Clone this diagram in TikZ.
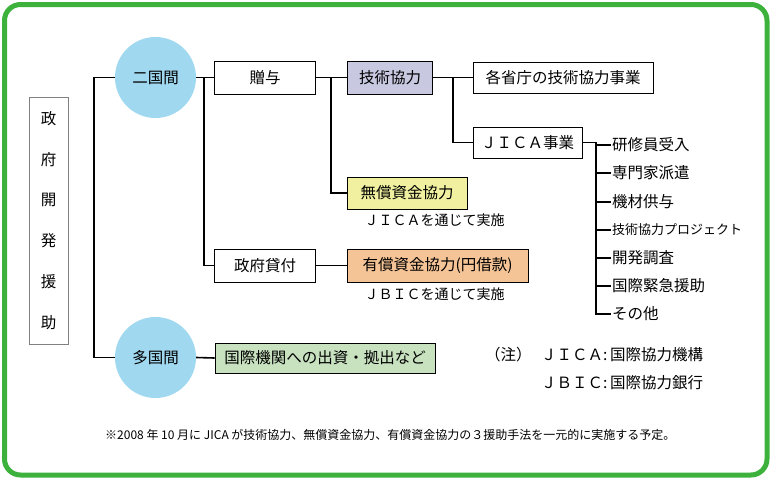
\documentclass[tikz,border=0pt]{standalone}
\usepackage{fontspec}
\setmainfont{Noto Sans CJK JP}
\usepackage{tikz}
\usetikzlibrary{positioning}
\definecolor{framegreen}{RGB}{60,178,60}
\definecolor{circblue}{RGB}{160,216,240}
\definecolor{lavbox}{RGB}{200,200,224}
\definecolor{yelbox}{RGB}{240,240,160}
\definecolor{orbox}{RGB}{245,196,150}
\definecolor{grbox}{RGB}{200,226,192}
\tikzset{
x=1pt, y=-1pt, % pixel-like units, y grows downwards
font=\fontsize{15.5}{18}\selectfont, % sets the size of all labels
kind/.style={circle, fill=circblue, minimum size=81, inner sep=0pt}, % the two round nodes
box/.style={draw, line width=0.8pt, minimum height=33, inner sep=0pt}, % sets the properties of each box
item/.style={anchor=west, inner xsep=1pt}, % entries of the JICA list
note/.style={anchor=west, inner sep=0pt}, % loose texts
link/.style={line width=1.6pt}, % the connecting lines
}

\begin{document}
\begin{tikzpicture}
\useasboundingbox (0,0) rectangle (771,479);
\draw[framegreen, line width=5pt, rounded corners=16pt] (4.5,4.5) rectangle (767,475);

% the left box
\node[draw=gray, line width=0.8pt, minimum width=39, minimum height=247, inner sep=0pt,
      align=center, font=\fontsize{15.5}{40.8}\selectfont] (oda) at (48.5,220.5)
      {政\\府\\開\\発\\援\\助};

\node[kind] (niko) at (155.5,77.5) {二国間};
\node[kind] (tako) at (155.5,357.5) {多国間};

\node[box, minimum width=101] (zoyo) at (265,77.5) {贈与};
\node[box, minimum width=101] (kashi) at (265,265.5) {政府貸付};
\node[box, minimum width=85, fill=lavbox] (gijutsu) at (390,77.5) {技術協力};
\node[box, minimum width=120, minimum height=32, fill=yelbox] (musho) at (407,193) {無償資金協力};
\node[box, minimum width=181, fill=orbox] (yusho) at (437.5,265.5) {有償資金協力(円借款)};
\node[box, minimum width=220, minimum height=30, fill=grbox] (kokusai) at (325,358) {国際機関への出資・拠出など};
\node[box, minimum width=180, minimum height=31] (kakusho) at (563,77.5) {各省庁の技術協力事業};
\node[box, minimum width=109, minimum height=31] (jica) at (527.5,142.5) {ＪＩＣＡ事業};

\node[font=\fontsize{14}{16}\selectfont] (mushoby) at (434.5,220) {ＪＩＣＡを通じて実施};
\node[font=\fontsize{14}{16}\selectfont] (yushoby) at (434.5,294) {ＪＢＩＣを通じて実施};

% JICA list
\node[item] (it1) at (611,145) {研修員受入};
\node[item] (it2) at (611,173) {専門家派遣};
\node[item] (it3) at (611,202) {機材供与};
\node[item, font=\fontsize{13}{16}\selectfont] (it4) at (611,230) {技術協力プロジェクト};
\node[item] (it5) at (611,258) {開発調査};
\node[item] (it6) at (611,286) {国際緊急援助};
\node[item] (it7) at (611,314) {その他};

% notes
\node[note] (chu) at (485,355) {（注）};
\node[note] (jicanote) at (541,355) {ＪＩＣＡ:\,国際協力機構};
\node[note] (jbicnote) at (541,383) {ＪＢＩＣ:\,国際協力銀行};
\node[note, font=\fontsize{12}{14}\selectfont] (foot) at (105,435)
      {※2008 年 10 月に JICA が技術協力、無償資金協力、有償資金協力の３援助手法を一元的に実施する予定。};

% branch points
\coordinate (b1) at (94,77.5);
\coordinate (b2) at (204,77.5);
\coordinate (b3) at (331,77.5);
\coordinate (b4) at (453,77.5);
\coordinate (b5) at (596,142.5);

\draw[link] (niko.west) -- (b1) |- (tako.west);
\draw[link] (niko.east) -- (zoyo.west);
\draw[link] (b2) |- (kashi.west);
\draw[link] (zoyo.east) -- (gijutsu.west);
\draw[link] (b3) |- (musho.west);
\draw[link] (kashi.east) -- (yusho.west);
\draw[link] (gijutsu.east) -- (kakusho.west);
\draw[link] (b4) |- (jica.west);
\draw[link] (tako.east) -- (kokusai.west);
\draw[link] (jica.east) -- (b5) |- (it7.west);
\foreach \i in {1,...,6}
  \draw[link] (b5 |- it\i.west) -- (it\i.west);
\end{tikzpicture}
\end{document}
